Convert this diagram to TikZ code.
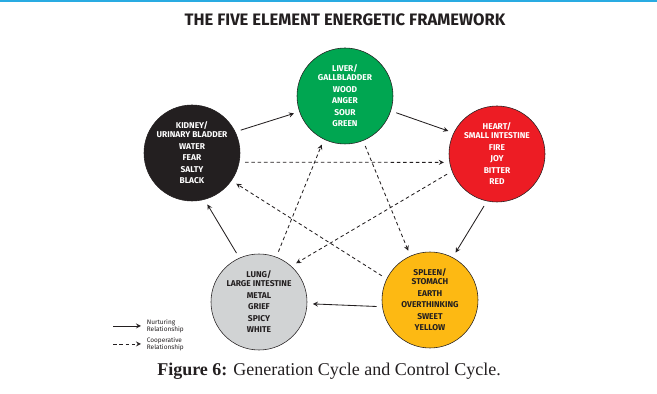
\documentclass[tikz,border=0pt]{standalone}
\usepackage{fontspec}
\setsansfont{Fira Sans}
\newfontfamily\capfont{Liberation Serif}
\usetikzlibrary{positioning}

\definecolor{wood}{RGB}{0,166,81}
\definecolor{fire}{RGB}{237,28,36}
\definecolor{earth}{RGB}{253,185,19}
\definecolor{metal}{RGB}{209,211,212}
\definecolor{water}{RGB}{35,31,32}
\definecolor{ink}{RGB}{35,31,32}
\definecolor{frameblue}{RGB}{41,171,226}

\tikzset{
  element/.style={circle, draw=ink, line width=0.4pt, minimum size=2.4cm, inner sep=0pt, align=center,
    font=\sffamily\bfseries\fontsize{6}{8.2}\selectfont},
  nurture/.style={-stealth, draw=ink, line width=0.6pt, shorten >=4pt, shorten <=4pt},
  cooperate/.style={nurture, dash pattern=on 2.5pt off 2pt},
  legendtext/.style={align=left, inner sep=0pt, text=ink, font=\sffamily\fontsize{4.6}{5}\selectfont},
}

\begin{document}
\begin{tikzpicture}
                    \useasboundingbox (0, 0) rectangle (16.425, 9.85);
                    \draw[frameblue, line width=1.5pt] (0, 9.83) -- (16.425, 9.83);

                    \node[text=ink, font=\sffamily\bfseries\fontsize{11.8}{13}\selectfont] (title) at (8.625, 9.35) {THE FIVE ELEMENT ENERGETIC FRAMEWORK};

                    \node[element, fill=wood, text=white] (liver) at (8.625, 7.45) {LIVER/\\[-1.8pt]GALLBLADDER\\WOOD\\ANGER\\SOUR\\GREEN};
                    \node[element, fill=water, text=white] (kidney) at (4.8, 6.025) {KIDNEY/\\[-1.8pt]URINARY BLADDER\\WATER\\FEAR\\SALTY\\BLACK};
                    \node[element, fill=fire, text=white] (heart) at (12.425, 6.0) {HEART/\\[-1.8pt]SMALL INTESTINE\\FIRE\\JOY\\BITTER\\RED};
                    \node[element, fill=metal, text=ink] (lung) at (6.475, 2.3) {LUNG/\\[-1.8pt]LARGE INTESTINE\\METAL\\GRIEF\\SPICY\\WHITE};
                    \node[element, fill=earth, text=ink] (spleen) at (10.75, 2.35) {SPLEEN/\\[-1.8pt]STOMACH\\EARTH\\OVERTHINKING\\SWEET\\YELLOW};

                    % generation cycle
                    \draw[nurture] (kidney.26) -- (liver.199);
                    \draw[nurture] (liver.-18) -- (heart.154);
                    \draw[nurture] (heart.258) -- (spleen.62);
                    \draw[nurture] (spleen.188) -- (lung.-2);
                    \draw[nurture] (lung.114) -- (kidney.-75);

                    % control cycle
                    \draw[cooperate] (kidney.-11) -- (heart.190);
                    \draw[cooperate] (liver.-68) -- (spleen.114);
                    \draw[cooperate] (lung.69) -- (liver.244);
                    \draw[cooperate] (heart.201) -- (lung.48);
                    \draw[cooperate] (spleen.154) -- (kidney.-35);

                    % legend
                    \coordinate (nurA) at (2.825, 1.7);
                    \coordinate (nurB) at (3.525, 1.7);
                    \coordinate (coopA) at (2.825, 1.25);
                    \coordinate (coopB) at (3.525, 1.25);
                    \draw[nurture, shorten >=0pt, shorten <=0pt] (nurA) -- (nurB);
                    \draw[cooperate, shorten >=0pt, shorten <=0pt] (coopA) -- (coopB);
                    \node[legendtext, right=4pt of nurB] (nurtext) {Nurturing\\Relationship};
                    \node[legendtext, right=4pt of coopB] (cooptext) {Cooperative\\Relationship};

                    \node[text=ink] (caption) at (8.225, 0.56) {\capfont\fontsize{12.8}{14}\selectfont\textbf{Figure 6:} Generation Cycle and Control Cycle.};
                \end{tikzpicture}
\end{document}
